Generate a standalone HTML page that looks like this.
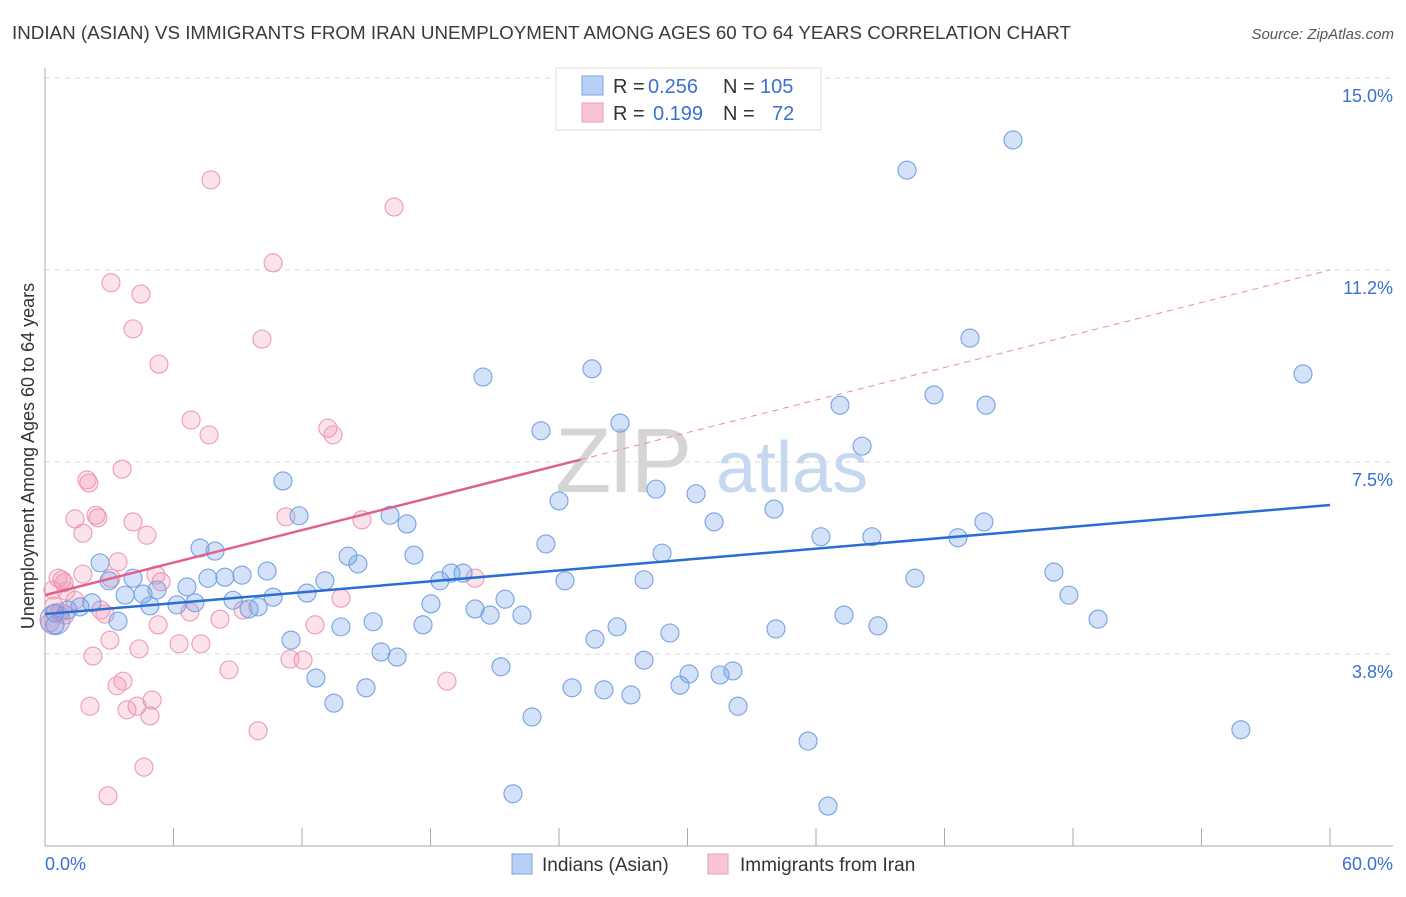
<!DOCTYPE html>
<html><head><meta charset="utf-8">
<style>
body{margin:0;background:#fff;font-family:"Liberation Sans",sans-serif;}
svg text{font-family:"Liberation Sans",sans-serif;}
</style></head>
<body>
<svg id="chart" width="1406" height="892" viewBox="0 0 1406 892" xmlns="http://www.w3.org/2000/svg">
<text x="12" y="39" font-size="18" fill="#3a3a3a" textLength="1059" lengthAdjust="spacingAndGlyphs">INDIAN (ASIAN) VS IMMIGRANTS FROM IRAN UNEMPLOYMENT AMONG AGES 60 TO 64 YEARS CORRELATION CHART</text>
<text x="1394" y="39" font-size="15" fill="#555" text-anchor="end" font-style="italic">Source: ZipAtlas.com</text>
<g>
<text x="555" y="492" font-size="92" fill="#d5d5d5" font-family="Liberation Serif" letter-spacing="-3">ZIP</text>
<text x="716" y="492" font-size="72" fill="#c5d8ef">atlas</text>
</g>
<g id="grid"></g>
<g id="axes"></g>
<g id="marks"></g>
<text transform="translate(34,456) rotate(-90)" font-size="18" fill="#333" text-anchor="middle">Unemployment Among Ages 60 to 64 years</text>
<text x="45" y="870" font-size="18" fill="#3b6fd4">0.0%</text>
<text x="1393" y="870" font-size="18" fill="#3b6fd4" text-anchor="end">60.0%</text>
<g>
<rect x="556" y="68" width="265" height="62" fill="#fff" stroke="#ddd"/>
<rect x="582" y="76" width="21" height="19" fill="#b8d0f4" stroke="#7aa3e0"/>
<rect x="582" y="103" width="21" height="19" fill="#f9c5d5" stroke="#ec9ab5"/>
<text x="613" y="93" font-size="20" fill="#333">R =</text>
<text x="648" y="93" font-size="20" fill="#3b6fd4">0.256</text>
<text x="723" y="93" font-size="20" fill="#333">N =</text>
<text x="760" y="93" font-size="20" fill="#3b6fd4">105</text>
<text x="613" y="120" font-size="20" fill="#333">R =</text>
<text x="653" y="120" font-size="20" fill="#3b6fd4">0.199</text>
<text x="723" y="120" font-size="20" fill="#333">N =</text>
<text x="772" y="120" font-size="20" fill="#3b6fd4">72</text>
</g>
<g>
<rect x="512" y="854" width="20" height="20" fill="#b8d0f4" stroke="#7aa3e0"/>
<text x="542" y="871" font-size="19" fill="#333">Indians (Asian)</text>
<rect x="708" y="854" width="20" height="20" fill="#f9c5d5" stroke="#ec9ab5"/>
<text x="740" y="871" font-size="19" fill="#333">Immigrants from Iran</text>
</g>
</svg>
<script>
const blueX=[45.2,40.25,43.19,58.74,41.51,43.94,37.12,25.54,20.45,26.85,23.16,38.15,11.11,28.53,30.40,24.0,16.11,11.86,16.90,31.24,34.04,43.84,42.63,38.61,36.23,23.39,7.24,7.94,2.57,14.15,17.23,14.61,28.81,47.11,40.62,10.37,9.20,8.40,7.61,4.11,2.99,13.07,18.44,18.96,19.52,24.28,27.97,47.81,49.17,6.63,5.23,3.74,4.58,10.65,12.23,21.48,18.02,20.08,20.78,22.27,8.78,4.90,6.16,7.00,9.95,9.53,2.19,1.63,1.07,0.47,3.41,0.47,37.31,38.89,34.13,29.18,26.71,25.68,15.32,13.82,17.65,11.49,15.69,16.44,27.97,21.29,32.12,30.07,31.52,29.65,12.65,14.99,24.61,26.10,27.36,13.49,32.36,22.74,35.63,55.84,21.85,36.56];
const blueY=[13.79,13.20,9.92,9.22,8.81,8.61,8.61,9.32,9.16,8.26,8.11,7.81,7.13,6.97,6.88,6.74,6.46,6.45,6.29,6.33,6.58,6.33,6.02,6.04,6.04,5.90,5.82,5.76,5.53,5.66,5.68,5.51,5.72,5.35,5.23,5.37,5.29,5.25,5.23,5.23,5.18,5.18,5.18,5.33,5.33,5.18,5.20,4.90,4.43,5.06,5.00,4.90,4.92,4.86,4.94,4.82,4.73,4.63,4.51,4.51,4.80,4.69,4.71,4.75,4.67,4.63,4.75,4.67,4.61,4.55,4.39,4.32,4.51,4.30,4.24,4.16,4.28,4.04,4.38,4.28,4.32,4.02,3.79,3.69,3.63,3.50,3.42,3.36,3.34,3.14,3.28,3.09,3.09,3.05,2.95,2.79,2.73,2.52,2.05,2.27,1.02,0.78];
const pinkX=[7.75,16.30,10.65,3.08,4.48,4.11,10.13,5.32,6.82,13.21,13.45,7.66,3.60,1.96,2.05,2.38,2.47,1.40,4.11,11.25,14.80,4.76,1.77,3.41,0.61,1.77,0.79,3.08,0.98,5.18,5.42,20.08,2.61,2.80,6.77,8.17,9.25,13.82,0.42,0.70,0.93,0.23,5.28,12.61,3.03,4.39,6.26,7.28,2.24,11.44,12.05,8.59,18.77,3.64,3.36,5.00,2.10,3.83,4.30,4.90,9.95,4.62,2.94,0.89,1.40,0.37];
const pinkY=[13.01,12.48,11.39,11.00,10.78,10.10,9.90,9.41,8.32,8.16,8.03,8.03,7.36,7.15,7.09,6.46,6.41,6.39,6.33,6.43,6.37,6.07,6.11,5.55,5.23,5.31,5.20,5.23,4.98,5.29,5.16,5.23,4.61,4.53,4.57,4.43,4.61,4.84,4.69,4.57,4.51,4.36,4.32,4.32,4.02,3.85,3.95,3.95,3.71,3.65,3.63,3.44,3.22,3.22,3.13,2.85,2.73,2.66,2.73,2.54,2.25,1.54,0.98,5.14,4.80,5.00];
const blueTrend=[4.53,6.66];
const pinkTrend=[4.90,11.25];
const pinkSolidEnd=25;
const yTicks=[15.0,11.2,7.5,3.8];
const yTickVals=[15,11.25,7.5,3.75];

const NS="http://www.w3.org/2000/svg";
const X0=45,X1=1330,Y0=846,YTOP=78;
function sx(v){return X0+v/60*(X1-X0);}
function sy(v){return Y0-v/15*(Y0-YTOP);}
function mk(tag,attrs,parent){const e=document.createElementNS(NS,tag);for(const k in attrs)e.setAttribute(k,attrs[k]);parent.appendChild(e);return e;}
const grid=document.getElementById('grid'),axes=document.getElementById('axes'),marks=document.getElementById('marks');
yTickVals.forEach((v,i)=>{
  const l=mk('line',{x1:X0,x2:1393,y1:sy(v),y2:sy(v),stroke:'#d8d8d8','stroke-dasharray':'5,5'},grid);
  
  
  const t=mk('text',{x:1393,y:sy(v)+24,'font-size':18,fill:'#3b6fd4','text-anchor':'end'},grid);
  t.textContent=yTicks[i].toFixed(1)+'%';
  
  
});
const ya=mk('line',{x1:X0,x2:X0,y1:68,y2:Y0,stroke:'#aaa'},axes);


const xa=mk('line',{x1:X0,x2:1393,y1:Y0,y2:Y0,stroke:'#aaa'},axes);


for(let i=1;i<=10;i++){
  const tk=mk('line',{x1:sx(i*6),x2:sx(i*6),y1:Y0,y2:Y0-18,stroke:'#aaa'},axes);
  
  
}
function dots(xs,ys,fill,stroke,name){
  xs.forEach((x,i)=>{
    const c=mk('circle',{cx:sx(x),cy:sy(ys[i]),r:9,fill:fill,stroke:stroke,'stroke-width':1.1},marks);
    
    
  });
}
dots(pinkX,pinkY,'rgba(244,150,180,0.28)','#ec9ab5','iran-point');
dots(blueX,blueY,'rgba(110,160,232,0.3)','#74a2e2','indians-point');
const big=mk('circle',{cx:sx(0.47),cy:sy(4.42),r:15,fill:'rgba(150,140,210,0.3)',stroke:'#8a9be0'},marks);


function ty(t,x){return t[0]+(t[1]-t[0])*x/60;}
const bl=mk('line',{x1:sx(0),y1:sy(ty(blueTrend,0)),x2:sx(60),y2:sy(ty(blueTrend,60)),stroke:'#2a6dd4','stroke-width':2.5},marks);


const pl=mk('line',{x1:sx(0),y1:sy(ty(pinkTrend,0)),x2:sx(pinkSolidEnd),y2:sy(ty(pinkTrend,pinkSolidEnd)),stroke:'#e0608d','stroke-width':2.5},marks);


const pd=mk('line',{x1:sx(pinkSolidEnd),y1:sy(ty(pinkTrend,pinkSolidEnd)),x2:sx(60),y2:sy(ty(pinkTrend,60)),stroke:'#e88aa8','stroke-width':1,'stroke-dasharray':'6,5'},marks);


</script>
</body></html>
